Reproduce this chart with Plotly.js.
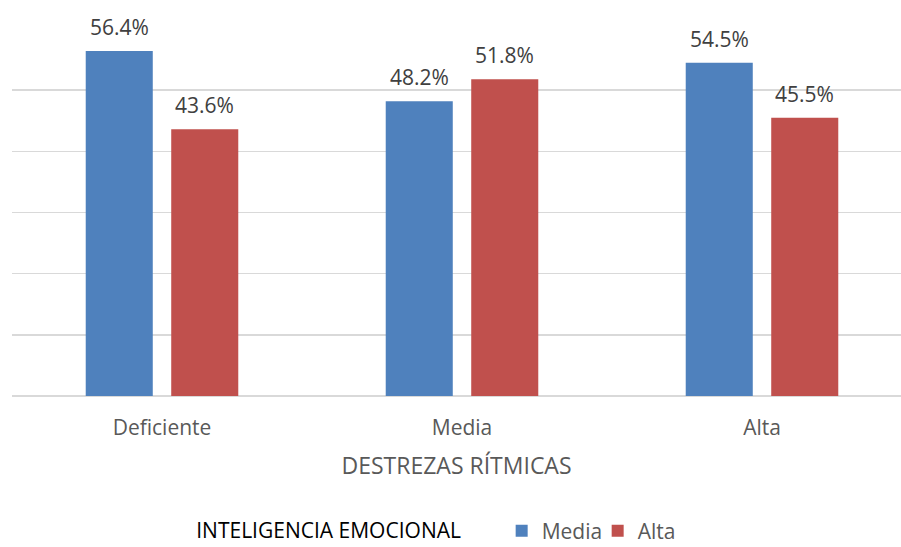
<!DOCTYPE html>
<html>
<head>
<meta charset="utf-8">
<script src="https://cdn.plot.ly/plotly-3.0.1.min.js"></script>
<style>html,body{margin:0;padding:0;background:#fff;}#chart{width:901px;height:547px;}</style>
</head>
<body>
<div id="chart"></div>
<script>
const categories = ['Deficiente', 'Media', 'Alta'];
const mediaValues = [56.4, 48.2, 54.5];
const altaValues = [43.6, 51.8, 45.5];
const seriesNames = ['Media', 'Alta'];
const xTitle = 'DESTREZAS RÍTMICAS';
const legendTitle = 'INTELIGENCIA EMOCIONAL';
const yTicks = [0, 10, 20, 30, 40, 50, 60];

const FONT = 'Open Sans, DejaVu Sans, sans-serif';
const colors = ['#4F81BD', '#C0504D'];

const traces = [mediaValues, altaValues].map((vals, i) => ({
  type: 'bar',
  name: seriesNames[i],
  x: categories,
  y: vals,
  marker: {color: colors[i]},
  hoverinfo: 'skip'
}));

const slotPx = 85.5;
const annotations = [];
[mediaValues, altaValues].forEach((vals, i) => {
  vals.forEach((v, j) => {
    annotations.push({
      x: categories[j], y: v, xref: 'x', yref: 'y',
      text: v.toFixed(1) + '%',
      showarrow: false,
      xanchor: 'center', yanchor: 'middle',
      xshift: (i === 0 ? -1 : 1) * slotPx / 2,
      yshift: 24,
      font: {family: FONT, size: 21, color: '#404040'}
    });
  });
});

const layout = {
  width: 901, height: 547,
  margin: {l: 12, r: 0, t: 29, b: 151, autoexpand: false},
  paper_bgcolor: '#ffffff',
  plot_bgcolor: '#ffffff',
  barmode: 'group',
  bargap: 0.43,
  bargroupgap: 0.216,
  showlegend: true,
  xaxis: {
    type: 'category',
    automargin: false,
    range: [-0.5, -0.5 + 889 / 300],
    showgrid: false,
    zeroline: false,
    showline: false,
    ticks: '',
    ticklabelstandoff: 17,
    tickfont: {family: FONT, size: 21, color: '#595959'},
    title: {text: xTitle, font: {family: FONT, size: 23, color: '#595959'}, standoff: 17}
  },
  yaxis: {
    automargin: false,
    range: [0, 60],
    tickvals: yTicks,
    showticklabels: false,
    showgrid: true,
    gridcolor: '#d9d9d9',
    gridwidth: 1.5,
    zeroline: true,
    zerolinecolor: '#d9d9d9',
    zerolinewidth: 1.5,
    showline: false,
    fixedrange: true
  },
  legend: {
    orientation: 'h',
    x: 0.205, xanchor: 'left',
    y: -0.368, yanchor: 'middle',
    font: {family: FONT, size: 21, color: '#595959'},
    title: {text: legendTitle + '\u00A0\u00A0\u00A0\u00A0\u00A0\u00A0', side: 'left', font: {family: FONT, size: 21, color: '#000000'}},
    entrywidth: 51,
    entrywidthmode: 'pixels',
    traceorder: 'normal'
  },
  annotations: annotations
};

Plotly.newPlot('chart', traces, layout, {displayModeBar: false, staticPlot: true});
</script>
</body>
</html>
